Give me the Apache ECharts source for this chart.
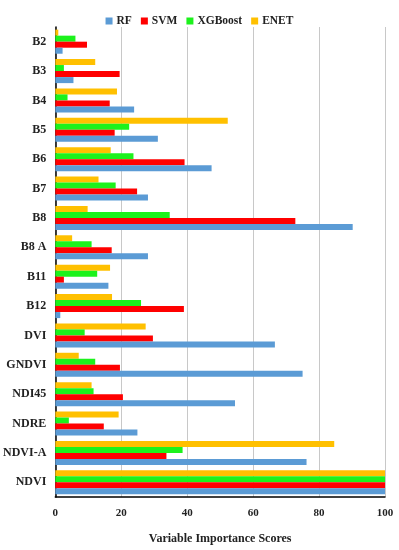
<!DOCTYPE html>
<html><head><meta charset="utf-8">
<script src="https://cdn.jsdelivr.net/npm/echarts@6/dist/echarts.min.js"></script>
<style>html,body{margin:0;padding:0;background:#fff}#c{width:399px;height:550px}</style>
</head><body><div id="c"></div>
<script>
const categories = ['B2','B3','B4','B5','B6','B7','B8','B8 A','B11','B12','DVI','GNDVI','NDI45','NDRE','NDVI-A','NDVI'];
const rf      = [2.2, 5.5, 23.9, 31.1, 47.4, 28.1, 90.2, 28.1, 16.1, 1.5, 66.6, 75.0, 54.5, 24.9, 76.2, 100];
const svm     = [9.6, 19.5, 16.5, 18.0, 39.2, 24.8, 72.8, 17.1, 2.6, 39.0, 29.6, 19.6, 20.5, 14.7, 33.7, 100];
const xgboost = [6.1, 2.6, 3.7, 22.4, 23.7, 18.3, 34.7, 11.0, 12.7, 26.0, 8.9, 12.1, 11.6, 4.1, 38.6, 100];
const enet    = [0.9, 12.1, 18.7, 52.3, 16.8, 13.1, 9.8, 5.1, 16.6, 17.2, 27.4, 7.1, 11.0, 19.2, 84.6, 100];
const xTicks = [0, 20, 40, 60, 80, 100];

const font = '"Liberation Serif", "DejaVu Serif", serif';
const chart = echarts.init(document.getElementById('c'), null, {renderer:'canvas'});
function s(name, data, color){
  return {name, type:'bar', data, barGap:'0%', barCategoryGap:'18%', itemStyle:{color}};
}
chart.setOption({
  animation:false,
  textStyle:{fontFamily:font},
  legend:{
    data:['RF','SVM','XGBoost','ENET'], top:10, left:'center',
    itemWidth:7, itemHeight:7, itemGap:9, icon:'rect',
    textStyle:{fontFamily:font, fontWeight:'bold', fontSize:11.5, color:'#222', padding:[0,0,0,-1]}
  },
  grid:{left:55, right:14, top:27, bottom:52, containLabel:false},
  xAxis:{
    type:'value', min:xTicks[0], max:xTicks[xTicks.length-1], interval:20,
    name:'Variable Importance Scores', nameLocation:'middle', nameGap:36,
    nameTextStyle:{fontFamily:font, fontWeight:'bold', fontSize:12, color:'#222'},
    axisLine:{show:true, lineStyle:{color:'#000', width:1.5}},
    axisTick:{show:false},
    axisLabel:{fontFamily:font, fontWeight:'bold', fontSize:11, color:'#222', margin:11},
    splitLine:{show:true, lineStyle:{color:'#c8c8c8', width:1}}
  },
  yAxis:{
    type:'category', data:categories, inverse:true,
    axisLine:{show:true, lineStyle:{color:'#000', width:1.5}},
    axisTick:{show:false},
    axisLabel:{fontFamily:font, fontWeight:'bold', fontSize:12, color:'#222', margin:9},
    splitLine:{show:false}
  },
  series:[
    s('ENET', enet, '#FFC000'),
    s('XGBoost', xgboost, '#1CF21C'),
    s('SVM', svm, '#FF0000'),
    s('RF', rf, '#5B9BD5')
  ]
});
</script></body></html>
